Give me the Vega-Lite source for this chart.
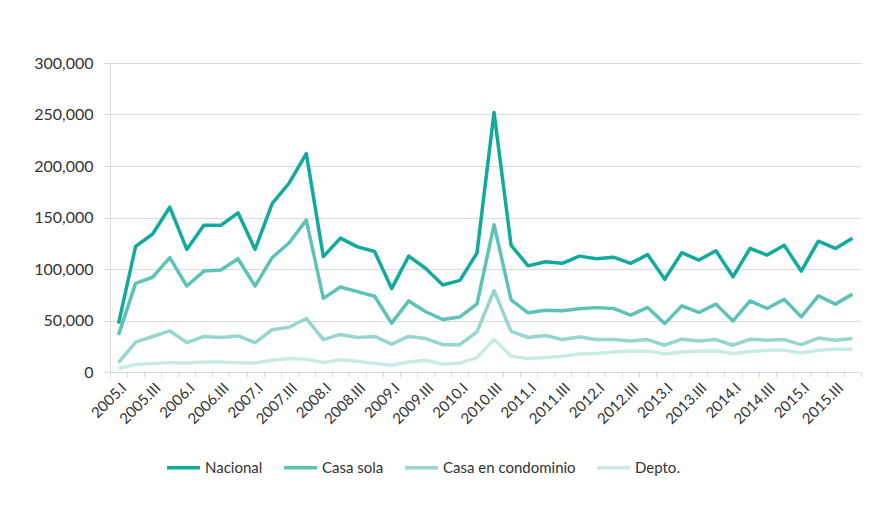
{
  "$schema": "https://vega.github.io/schema/vega-lite/v6.json",
  "width": 751,
  "height": 309,
  "autosize": {"type": "none"},
  "padding": {"left": 110, "top": 63, "right": 11, "bottom": 149},
  "background": "white",
  "config": {"view": {"stroke": null}, "font": "Lato"},
  "data": {"values": [
    {"t":"2005.I","s":"Nacional","v":47000},{"t":"2005.II","s":"Nacional","v":122000},{"t":"2005.III","s":"Nacional","v":134000},{"t":"2005.IV","s":"Nacional","v":160000},
    {"t":"2006.I","s":"Nacional","v":119000},{"t":"2006.II","s":"Nacional","v":142500},{"t":"2006.III","s":"Nacional","v":142500},{"t":"2006.IV","s":"Nacional","v":154500},
    {"t":"2007.I","s":"Nacional","v":119000},{"t":"2007.II","s":"Nacional","v":163500},{"t":"2007.III","s":"Nacional","v":183500},{"t":"2007.IV","s":"Nacional","v":212000},
    {"t":"2008.I","s":"Nacional","v":112000},{"t":"2008.II","s":"Nacional","v":130000},{"t":"2008.III","s":"Nacional","v":121500},{"t":"2008.IV","s":"Nacional","v":117000},
    {"t":"2009.I","s":"Nacional","v":81000},{"t":"2009.II","s":"Nacional","v":112500},{"t":"2009.III","s":"Nacional","v":100500},{"t":"2009.IV","s":"Nacional","v":84500},
    {"t":"2010.I","s":"Nacional","v":89000},{"t":"2010.II","s":"Nacional","v":115500},{"t":"2010.III","s":"Nacional","v":252000},{"t":"2010.IV","s":"Nacional","v":123000},
    {"t":"2011.I","s":"Nacional","v":103000},{"t":"2011.II","s":"Nacional","v":107000},{"t":"2011.III","s":"Nacional","v":105500},{"t":"2011.IV","s":"Nacional","v":112500},
    {"t":"2012.I","s":"Nacional","v":110000},{"t":"2012.II","s":"Nacional","v":111500},{"t":"2012.III","s":"Nacional","v":105500},{"t":"2012.IV","s":"Nacional","v":114000},
    {"t":"2013.I","s":"Nacional","v":90000},{"t":"2013.II","s":"Nacional","v":115800},{"t":"2013.III","s":"Nacional","v":108700},{"t":"2013.IV","s":"Nacional","v":117700},
    {"t":"2014.I","s":"Nacional","v":92500},{"t":"2014.II","s":"Nacional","v":120000},{"t":"2014.III","s":"Nacional","v":113500},{"t":"2014.IV","s":"Nacional","v":123000},
    {"t":"2015.I","s":"Nacional","v":98000},{"t":"2015.II","s":"Nacional","v":127000},{"t":"2015.III","s":"Nacional","v":120000},{"t":"2015.IV","s":"Nacional","v":129800},

    {"t":"2005.I","s":"Casa sola","v":36000},{"t":"2005.II","s":"Casa sola","v":86000},{"t":"2005.III","s":"Casa sola","v":92000},{"t":"2005.IV","s":"Casa sola","v":111000},
    {"t":"2006.I","s":"Casa sola","v":83500},{"t":"2006.II","s":"Casa sola","v":98000},{"t":"2006.III","s":"Casa sola","v":99000},{"t":"2006.IV","s":"Casa sola","v":110000},
    {"t":"2007.I","s":"Casa sola","v":83500},{"t":"2007.II","s":"Casa sola","v":111000},{"t":"2007.III","s":"Casa sola","v":125500},{"t":"2007.IV","s":"Casa sola","v":147500},
    {"t":"2008.I","s":"Casa sola","v":71500},{"t":"2008.II","s":"Casa sola","v":82500},{"t":"2008.III","s":"Casa sola","v":78000},{"t":"2008.IV","s":"Casa sola","v":73500},
    {"t":"2009.I","s":"Casa sola","v":47500},{"t":"2009.II","s":"Casa sola","v":69000},{"t":"2009.III","s":"Casa sola","v":58500},{"t":"2009.IV","s":"Casa sola","v":51000},
    {"t":"2010.I","s":"Casa sola","v":53500},{"t":"2010.II","s":"Casa sola","v":66000},{"t":"2010.III","s":"Casa sola","v":143000},{"t":"2010.IV","s":"Casa sola","v":70000},
    {"t":"2011.I","s":"Casa sola","v":57500},{"t":"2011.II","s":"Casa sola","v":60000},{"t":"2011.III","s":"Casa sola","v":59500},{"t":"2011.IV","s":"Casa sola","v":61500},
    {"t":"2012.I","s":"Casa sola","v":62500},{"t":"2012.II","s":"Casa sola","v":61700},{"t":"2012.III","s":"Casa sola","v":55200},{"t":"2012.IV","s":"Casa sola","v":62700},
    {"t":"2013.I","s":"Casa sola","v":47000},{"t":"2013.II","s":"Casa sola","v":64200},{"t":"2013.III","s":"Casa sola","v":57800},{"t":"2013.IV","s":"Casa sola","v":65900},
    {"t":"2014.I","s":"Casa sola","v":49600},{"t":"2014.II","s":"Casa sola","v":69000},{"t":"2014.III","s":"Casa sola","v":61700},{"t":"2014.IV","s":"Casa sola","v":70700},
    {"t":"2015.I","s":"Casa sola","v":53500},{"t":"2015.II","s":"Casa sola","v":74000},{"t":"2015.III","s":"Casa sola","v":65900},{"t":"2015.IV","s":"Casa sola","v":75600},

    {"t":"2005.I","s":"Casa en condominio","v":9000},{"t":"2005.II","s":"Casa en condominio","v":29000},{"t":"2005.III","s":"Casa en condominio","v":34500},{"t":"2005.IV","s":"Casa en condominio","v":40000},
    {"t":"2006.I","s":"Casa en condominio","v":28500},{"t":"2006.II","s":"Casa en condominio","v":34500},{"t":"2006.III","s":"Casa en condominio","v":33500},{"t":"2006.IV","s":"Casa en condominio","v":35000},
    {"t":"2007.I","s":"Casa en condominio","v":28500},{"t":"2007.II","s":"Casa en condominio","v":41000},{"t":"2007.III","s":"Casa en condominio","v":43500},{"t":"2007.IV","s":"Casa en condominio","v":52000},
    {"t":"2008.I","s":"Casa en condominio","v":31500},{"t":"2008.II","s":"Casa en condominio","v":36500},{"t":"2008.III","s":"Casa en condominio","v":33500},{"t":"2008.IV","s":"Casa en condominio","v":34500},
    {"t":"2009.I","s":"Casa en condominio","v":27000},{"t":"2009.II","s":"Casa en condominio","v":34500},{"t":"2009.III","s":"Casa en condominio","v":32500},{"t":"2009.IV","s":"Casa en condominio","v":26500},
    {"t":"2010.I","s":"Casa en condominio","v":26500},{"t":"2010.II","s":"Casa en condominio","v":39000},{"t":"2010.III","s":"Casa en condominio","v":79000},{"t":"2010.IV","s":"Casa en condominio","v":39500},
    {"t":"2011.I","s":"Casa en condominio","v":33500},{"t":"2011.II","s":"Casa en condominio","v":35500},{"t":"2011.III","s":"Casa en condominio","v":31500},{"t":"2011.IV","s":"Casa en condominio","v":34000},
    {"t":"2012.I","s":"Casa en condominio","v":31500},{"t":"2012.II","s":"Casa en condominio","v":31500},{"t":"2012.III","s":"Casa en condominio","v":30200},{"t":"2012.IV","s":"Casa en condominio","v":31500},
    {"t":"2013.I","s":"Casa en condominio","v":26000},{"t":"2013.II","s":"Casa en condominio","v":31800},{"t":"2013.III","s":"Casa en condominio","v":30200},{"t":"2013.IV","s":"Casa en condominio","v":31500},
    {"t":"2014.I","s":"Casa en condominio","v":26000},{"t":"2014.II","s":"Casa en condominio","v":31800},{"t":"2014.III","s":"Casa en condominio","v":30800},{"t":"2014.IV","s":"Casa en condominio","v":31500},
    {"t":"2015.I","s":"Casa en condominio","v":26600},{"t":"2015.II","s":"Casa en condominio","v":33000},{"t":"2015.III","s":"Casa en condominio","v":30800},{"t":"2015.IV","s":"Casa en condominio","v":32500},

    {"t":"2005.I","s":"Depto.","v":3600},{"t":"2005.II","s":"Depto.","v":7200},{"t":"2005.III","s":"Depto.","v":8200},{"t":"2005.IV","s":"Depto.","v":9100},
    {"t":"2006.I","s":"Depto.","v":8800},{"t":"2006.II","s":"Depto.","v":9700},{"t":"2006.III","s":"Depto.","v":9700},{"t":"2006.IV","s":"Depto.","v":9100},
    {"t":"2007.I","s":"Depto.","v":8800},{"t":"2007.II","s":"Depto.","v":11400},{"t":"2007.III","s":"Depto.","v":13000},{"t":"2007.IV","s":"Depto.","v":12500},
    {"t":"2008.I","s":"Depto.","v":9100},{"t":"2008.II","s":"Depto.","v":12000},{"t":"2008.III","s":"Depto.","v":10400},{"t":"2008.IV","s":"Depto.","v":8200},
    {"t":"2009.I","s":"Depto.","v":6500},{"t":"2009.II","s":"Depto.","v":9700},{"t":"2009.III","s":"Depto.","v":11400},{"t":"2009.IV","s":"Depto.","v":7500},
    {"t":"2010.I","s":"Depto.","v":8800},{"t":"2010.II","s":"Depto.","v":14000},{"t":"2010.III","s":"Depto.","v":31500},{"t":"2010.IV","s":"Depto.","v":15300},
    {"t":"2011.I","s":"Depto.","v":13000},{"t":"2011.II","s":"Depto.","v":14000},{"t":"2011.III","s":"Depto.","v":15300},{"t":"2011.IV","s":"Depto.","v":17500},
    {"t":"2012.I","s":"Depto.","v":18000},{"t":"2012.II","s":"Depto.","v":19500},{"t":"2012.III","s":"Depto.","v":20500},{"t":"2012.IV","s":"Depto.","v":20500},
    {"t":"2013.I","s":"Depto.","v":17500},{"t":"2013.II","s":"Depto.","v":19500},{"t":"2013.III","s":"Depto.","v":20400},{"t":"2013.IV","s":"Depto.","v":20400},
    {"t":"2014.I","s":"Depto.","v":18000},{"t":"2014.II","s":"Depto.","v":20000},{"t":"2014.III","s":"Depto.","v":21000},{"t":"2014.IV","s":"Depto.","v":21000},
    {"t":"2015.I","s":"Depto.","v":18500},{"t":"2015.II","s":"Depto.","v":21000},{"t":"2015.III","s":"Depto.","v":22000},{"t":"2015.IV","s":"Depto.","v":22000}
  ]},
  "mark": {"type": "line", "strokeWidth": 3.5, "strokeJoin": "round"},
  "encoding": {
    "x": {
      "field": "t", "type": "ordinal", "sort": null, "bandPosition": 0.5,
      "scale": {"type": "band", "paddingInner": 0, "paddingOuter": 0},
      "axis": {
        "title": null, "labelAngle": -45, "tickBand": "extent", "grid": false,
        "labelExpr": "test(/\\.(I|III)$/, datum.value) ? datum.value : ''",
        "labelOverlap": false, "domainColor": "#d9d9d9", "tickColor": "#d9d9d9",
        "tickSize": 5, "labelFontSize": 15, "labelColor": "#333333", "labelPadding": 3
      }
    },
    "y": {
      "field": "v", "type": "quantitative",
      "scale": {"domain": [0, 300000]},
      "axis": {
        "title": null, "values": [0, 50000, 100000, 150000, 200000, 250000, 300000],
        "format": ",.0f", "gridColor": "#d9d9d9", "domainColor": "#d9d9d9", "tickColor": "#d9d9d9",
        "tickSize": 6, "labelFontSize": 16, "labelColor": "#333333", "labelPadding": 11
      }
    },
    "color": {
      "field": "s", "type": "nominal",
      "sort": ["Nacional", "Casa sola", "Casa en condominio", "Depto."],
      "scale": {
        "domain": ["Nacional", "Casa sola", "Casa en condominio", "Depto."],
        "range": ["#12aa9f", "#5cc3b6", "#96d6cd", "#c8ebe6"]
      },
      "legend": {
        "title": null, "orient": "none", "direction": "horizontal",
        "legendX": 55, "legendY": 386,
        "symbolType": "stroke", "symbolSize": 1089, "symbolStrokeWidth": 3.5,
        "labelFontSize": 15, "labelColor": "#333333", "labelOffset": 3, "columnPadding": 14
      }
    }
  }
}
